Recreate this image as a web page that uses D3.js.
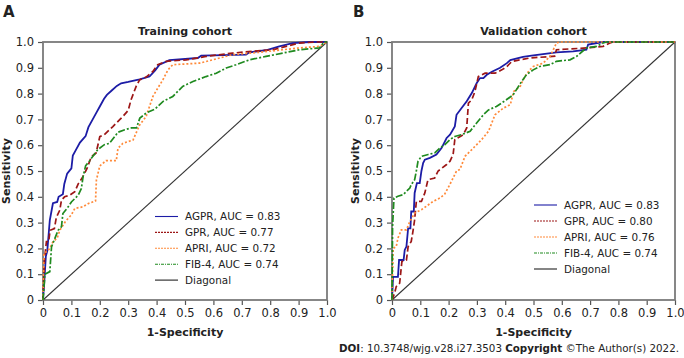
<!DOCTYPE html>
<html>
<head>
<meta charset="utf-8">
<script src="https://cdn.jsdelivr.net/npm/d3@7"></script>
<style>
  body { margin: 0; background: #fff; }
  text { font-family: "DejaVu Sans", Verdana, sans-serif; fill: #222; }
</style>
</head>
<body>
<div class="chart"></div>
<script>
const WIDTH = 684;
const HEIGHT = 358;

const TICKS = [0, 0.1, 0.2, 0.3, 0.4, 0.5, 0.6, 0.7, 0.8, 0.9, 1.0];
const SERIES_NAMES = ['AGPR', 'GPR', 'APRI', 'FIB-4'];
const TRAIN_AUC = [0.83, 0.77, 0.72, 0.74];
const VALID_AUC = [0.83, 0.80, 0.76, 0.74];

// [1-specificity, sensitivity]
const trainAGPR = [[0,0],[0.005,0.08],[0.01,0.17],[0.015,0.19],[0.024,0.31],[0.035,0.375],[0.05,0.38],[0.055,0.40],[0.07,0.41],[0.075,0.45],[0.085,0.49],[0.1,0.51],[0.105,0.56],[0.115,0.58],[0.13,0.61],[0.15,0.635],[0.16,0.67],[0.175,0.70],[0.19,0.73],[0.2,0.75],[0.215,0.78],[0.225,0.795],[0.24,0.81],[0.26,0.83],[0.275,0.84],[0.3,0.845],[0.34,0.855],[0.375,0.866],[0.395,0.89],[0.41,0.912],[0.445,0.93],[0.545,0.938],[0.557,0.947],[0.715,0.951],[0.727,0.96],[0.785,0.968],[0.832,0.983],[0.879,0.996],[0.938,1],[1,1]];
const trainGPR = [[0,0],[0.005,0.155],[0.012,0.226],[0.02,0.226],[0.025,0.27],[0.04,0.277],[0.047,0.32],[0.059,0.348],[0.065,0.387],[0.076,0.40],[0.094,0.406],[0.112,0.42],[0.124,0.45],[0.14,0.477],[0.155,0.51],[0.17,0.555],[0.187,0.57],[0.2,0.633],[0.216,0.641],[0.246,0.672],[0.27,0.699],[0.281,0.711],[0.3,0.735],[0.31,0.776],[0.328,0.828],[0.34,0.853],[0.363,0.864],[0.387,0.886],[0.404,0.912],[0.434,0.925],[0.504,0.931],[0.574,0.944],[0.668,0.957],[0.739,0.964],[0.809,0.97],[0.856,0.983],[0.903,0.996],[0.96,1],[1,1]];
const trainAPRI = [[0,0],[0.003,0.18],[0.012,0.187],[0.024,0.2],[0.035,0.226],[0.05,0.24],[0.059,0.27],[0.08,0.306],[0.1,0.33],[0.112,0.355],[0.14,0.361],[0.16,0.374],[0.185,0.384],[0.188,0.465],[0.2,0.52],[0.222,0.54],[0.258,0.54],[0.264,0.588],[0.281,0.607],[0.317,0.62],[0.34,0.678],[0.363,0.711],[0.387,0.789],[0.404,0.821],[0.422,0.853],[0.44,0.892],[0.457,0.912],[0.551,0.918],[0.598,0.931],[0.668,0.951],[0.762,0.96],[0.844,0.97],[0.903,0.977],[0.973,0.983],[1,1]];
const trainFIB4 = [[0,0],[0.005,0.07],[0.006,0.1],[0.024,0.11],[0.03,0.206],[0.035,0.22],[0.053,0.27],[0.065,0.284],[0.07,0.335],[0.088,0.36],[0.1,0.38],[0.124,0.406],[0.135,0.432],[0.141,0.477],[0.15,0.52],[0.163,0.538],[0.193,0.583],[0.216,0.602],[0.234,0.607],[0.264,0.65],[0.288,0.66],[0.311,0.667],[0.329,0.667],[0.341,0.705],[0.364,0.725],[0.394,0.74],[0.423,0.77],[0.457,0.789],[0.492,0.828],[0.528,0.847],[0.574,0.866],[0.61,0.879],[0.645,0.899],[0.68,0.912],[0.727,0.931],[0.785,0.944],[0.844,0.957],[0.903,0.97],[0.973,0.977],[0.99,1],[1,1]];

const validAGPR = [[0,0],[0.004,0.09],[0.021,0.09],[0.025,0.155],[0.041,0.155],[0.045,0.194],[0.051,0.207],[0.057,0.278],[0.065,0.278],[0.068,0.343],[0.077,0.343],[0.08,0.415],[0.088,0.453],[0.098,0.453],[0.104,0.5],[0.11,0.531],[0.116,0.544],[0.134,0.551],[0.157,0.564],[0.175,0.589],[0.193,0.628],[0.205,0.641],[0.222,0.673],[0.228,0.718],[0.246,0.744],[0.264,0.77],[0.282,0.802],[0.299,0.84],[0.311,0.86],[0.323,0.86],[0.335,0.873],[0.353,0.885],[0.382,0.9],[0.406,0.918],[0.418,0.93],[0.463,0.942],[0.493,0.947],[0.581,0.96],[0.64,0.964],[0.687,0.97],[0.693,0.99],[0.746,1],[1,1]];
const validGPR = [[0,0],[0.009,0.026],[0.015,0.052],[0.027,0.065],[0.035,0.149],[0.051,0.155],[0.057,0.207],[0.068,0.227],[0.074,0.266],[0.08,0.311],[0.086,0.382],[0.104,0.382],[0.116,0.415],[0.127,0.466],[0.151,0.473],[0.163,0.5],[0.193,0.525],[0.205,0.538],[0.216,0.564],[0.222,0.622],[0.252,0.641],[0.264,0.667],[0.27,0.763],[0.282,0.776],[0.293,0.808],[0.305,0.866],[0.329,0.879],[0.364,0.879],[0.388,0.892],[0.406,0.905],[0.423,0.924],[0.447,0.93],[0.487,0.938],[0.575,0.945],[0.581,0.97],[0.687,0.977],[0.746,0.983],[0.77,0.996],[0.78,1],[1,1]];
const validAPRI = [[0,0],[0.004,0.2],[0.015,0.207],[0.021,0.24],[0.033,0.272],[0.051,0.272],[0.063,0.304],[0.08,0.337],[0.104,0.35],[0.121,0.363],[0.145,0.382],[0.169,0.395],[0.186,0.41],[0.204,0.447],[0.216,0.473],[0.228,0.5],[0.24,0.506],[0.258,0.557],[0.282,0.583],[0.317,0.622],[0.341,0.654],[0.364,0.718],[0.394,0.744],[0.418,0.757],[0.43,0.808],[0.453,0.828],[0.469,0.866],[0.487,0.892],[0.499,0.905],[0.534,0.918],[0.558,0.944],[0.57,0.97],[0.581,0.996],[0.593,1],[1,1]];
const validFIB4 = [[0,0],[0.002,0.285],[0.007,0.395],[0.021,0.402],[0.039,0.408],[0.051,0.421],[0.063,0.434],[0.068,0.447],[0.08,0.466],[0.086,0.5],[0.092,0.538],[0.104,0.557],[0.128,0.564],[0.151,0.57],[0.169,0.589],[0.187,0.602],[0.205,0.622],[0.222,0.634],[0.246,0.641],[0.276,0.654],[0.299,0.686],[0.323,0.718],[0.341,0.737],[0.369,0.75],[0.404,0.776],[0.428,0.795],[0.458,0.847],[0.475,0.873],[0.499,0.892],[0.522,0.905],[0.558,0.912],[0.581,0.925],[0.629,0.931],[0.652,0.944],[0.687,0.977],[0.723,0.983],[0.746,0.996],[0.758,1],[1,1]];

const COLORS = ['#1c1ca6', '#9c1616', '#ff8a3a', '#1f8a1f'];
const CURVE_DASH = [null, '6,3', '2,2', '7,2,2,2'];
const LEGEND_DASH = [null, '2,1', '2,1', '3,1,1,1'];

function tickFormat(d) {
    return d === 0 ? '0' : d.toFixed(1);
}

var svg = d3.select('.chart').append('svg')
    .attr('width', WIDTH)
    .attr('height', HEIGHT);

function drawPanel(p) {
    var x = d3.scaleLinear().domain([0, 1]).range([p.left, p.left + p.width]);
    var y = d3.scaleLinear().domain([0, 1]).range([p.top + p.height, p.top]);
    var g = svg.append('g');

    // panel letter and title
    g.append('text').attr('x', p.letterX).attr('y', 17)
        .style('font-size', '15px').style('font-weight', 'bold').text(p.letter);
    g.append('text').attr('x', (x(0) + x(1)) / 2).attr('y', 35)
        .attr('text-anchor', 'middle')
        .style('font-size', '11px').style('font-weight', 'bold').text(p.title);

    var xAxis = d3.axisBottom(x).tickValues(TICKS).tickFormat(tickFormat).tickSize(5).tickPadding(4);
    var yAxis = d3.axisLeft(y).tickValues(TICKS).tickFormat(tickFormat).tickSize(5).tickPadding(4);

    var xg = g.append('g').attr('transform', 'translate(0,' + y(0) + ')').call(xAxis);
    var yg = g.append('g').attr('transform', 'translate(' + x(0) + ',0)').call(yAxis);
    [xg, yg].forEach(function (a) {
        a.select('.domain').remove();
        a.selectAll('line').attr('stroke', '#555').attr('stroke-width', 1.2);
        a.selectAll('text')
            .style('font-size', '11.5px')
            .style('font-family', '"DejaVu Sans", Verdana, sans-serif')
            .attr('fill', '#222');
    });

    g.append('rect')
        .attr('x', x(0)).attr('y', y(1))
        .attr('width', x(1) - x(0)).attr('height', y(0) - y(1))
        .attr('fill', 'none').attr('stroke', '#7a7a7a').attr('stroke-width', 1.8);

    // axis titles
    g.append('text').attr('x', (x(0) + x(1)) / 2).attr('y', 336)
        .attr('text-anchor', 'middle')
        .style('font-size', '11px').style('font-weight', 'bold').text('1-Specificity');
    g.append('text')
        .attr('transform', 'translate(' + p.yTitleX + ',' + ((y(0) + y(1)) / 2) + ') rotate(-90)')
        .attr('text-anchor', 'middle')
        .style('font-size', '11px').style('font-weight', 'bold').text('Sensitivity');

    // diagonal reference
    g.append('line')
        .attr('x1', x(0)).attr('y1', y(0)).attr('x2', x(1)).attr('y2', y(1))
        .attr('stroke', '#333').attr('stroke-width', 1.1);

    var line = d3.line()
        .x(function (d) { return x(d[0]); })
        .y(function (d) { return y(d[1]); });

    p.curves.forEach(function (c, i) {
        g.append('path')
            .attr('d', line(c))
            .attr('fill', 'none')
            .attr('stroke', COLORS[i])
            .attr('stroke-width', i === 0 ? 1.8 : 1.7)
            .attr('stroke-dasharray', CURVE_DASH[i]);
    });

    // legend
    var items = SERIES_NAMES.map(function (n, i) {
        return { label: n + ', AUC = ' + p.auc[i].toFixed(2), color: COLORS[i], dash: LEGEND_DASH[i] };
    });
    items.push({ label: 'Diagonal', color: '#222', dash: null });
    var lg = g.append('g');
    items.forEach(function (it, i) {
        var yy = p.legendY + i * p.legendStep;
        lg.append('line')
            .attr('x1', p.legendX).attr('x2', p.legendX + 23)
            .attr('y1', yy).attr('y2', yy)
            .attr('stroke', it.color).attr('stroke-width', 1.1)
            .attr('stroke-dasharray', it.dash);
        lg.append('text').attr('x', p.legendX + 30).attr('y', yy)
            .attr('dy', '0.35em')
            .style('font-size', '10.4px')
            .text(it.label);
    });
}

drawPanel({
    letter: 'A', letterX: 3, title: 'Training cohort',
    left: 43, top: 42, width: 284, height: 258, yTitleX: 10,
    curves: [trainAGPR, trainGPR, trainAPRI, trainFIB4], auc: TRAIN_AUC,
    legendX: 155, legendY: 216.5, legendStep: 15.9
});
drawPanel({
    letter: 'B', letterX: 353, title: 'Validation cohort',
    left: 392, top: 42, width: 283, height: 258, yTitleX: 359,
    curves: [validAGPR, validGPR, validAPRI, validFIB4], auc: VALID_AUC,
    legendX: 534, legendY: 205, legendStep: 16
});

var doi = svg.append('text').attr('x', 679).attr('y', 352)
    .attr('text-anchor', 'end').style('font-size', '10.3px');
doi.append('tspan').style('font-weight', 'bold').text('DOI');
doi.append('tspan').text(': 10.3748/wjg.v28.i27.3503 ');
doi.append('tspan').style('font-weight', 'bold').text('Copyright');
doi.append('tspan').text(' \u00A9The Author(s) 2022.');
</script>
</body>
</html>
